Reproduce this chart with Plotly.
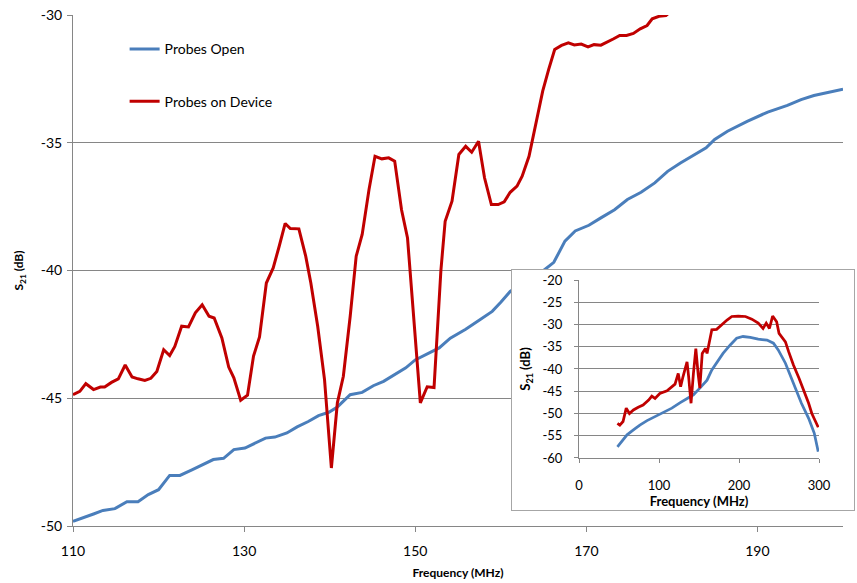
import plotly.graph_objects as go

# ---- Main sweep, 110-200 MHz ----
open_freq = [110.0, 111.2, 112.4, 113.5, 114.9, 116.3, 117.6, 118.8, 120.0, 121.3,
             122.5, 123.9, 125.2, 126.4, 127.6, 128.8, 130.1, 131.3, 132.5, 133.6,
             135.0, 136.2, 137.5, 138.7, 139.9, 140.9, 142.4, 143.8, 145.1, 146.3,
             147.7, 148.9, 150.0, 151.4, 152.8, 154.1, 155.9, 157.6, 159.0, 160.0,
             161.1, 162.3, 163.6, 165.0, 166.2, 167.5, 168.7, 170.3, 171.7, 173.3,
             174.8, 176.4, 178.0, 179.5, 181.0, 182.6, 184.0, 185.0, 186.5, 188.8,
             191.2, 193.5, 195.1, 196.6, 198.6, 200.0]
open_s21 = [-49.82, -49.69, -49.53, -49.39, -49.32, -49.05, -49.05, -48.77, -48.58, -48.02,
            -48.02, -47.80, -47.60, -47.40, -47.35, -47.01, -46.95, -46.75, -46.56, -46.52,
            -46.36, -46.12, -45.91, -45.68, -45.55, -45.34, -44.86, -44.77, -44.51, -44.34,
            -44.05, -43.81, -43.50, -43.25, -43.03, -42.65, -42.30, -41.92, -41.60, -41.24,
            -40.82, -40.55, -40.30, -40.00, -39.68, -38.85, -38.45, -38.23, -37.94, -37.62,
            -37.22, -36.94, -36.57, -36.12, -35.79, -35.46, -35.20, -34.87, -34.55, -34.16,
            -33.80, -33.54, -33.31, -33.15, -33.02, -32.90]

device_freq = [110.0, 110.8, 111.5, 112.4, 113.2, 113.7, 114.5, 115.3, 116.1, 116.9,
               117.6, 118.4, 119.1, 119.8, 120.6, 121.3, 121.9, 122.7, 123.5, 124.3,
               125.1, 125.9, 126.5, 127.4, 128.2, 128.8, 129.6, 130.4, 131.1, 131.8,
               132.6, 133.4, 134.1, 134.8, 135.4, 136.4, 137.2, 137.8, 138.6, 139.4,
               140.2, 140.9, 141.6, 142.4, 143.1, 143.8, 144.6, 145.3, 146.1, 146.9,
               147.6, 148.4, 149.1, 149.8, 150.6, 151.4, 152.2, 153.0, 153.5, 154.3,
               155.1, 155.9, 156.6, 157.4, 158.1, 158.9, 159.7, 160.4, 161.1, 161.9,
               162.5, 163.3, 164.1, 164.9, 165.6, 166.3, 167.1, 167.9, 168.6, 169.4,
               170.2, 170.9, 171.7, 172.5, 173.2, 173.9, 174.7, 175.5, 176.3, 177.1,
               177.7, 178.5, 179.3, 180.1, 181.0]
device_s21 = [-44.86, -44.73, -44.43, -44.66, -44.56, -44.56, -44.38, -44.24, -43.70, -44.17,
              -44.24, -44.30, -44.22, -43.95, -43.10, -43.33, -42.97, -42.18, -42.21, -41.66,
              -41.34, -41.79, -41.86, -42.64, -43.78, -44.20, -45.08, -44.88, -43.35, -42.60,
              -40.49, -39.90, -39.05, -38.16, -38.36, -38.37, -39.44, -40.49, -42.18, -44.27,
              -47.73, -45.18, -44.14, -41.79, -39.44, -38.59, -36.83, -35.53, -35.63, -35.59,
              -35.72, -37.62, -38.73, -41.79, -45.18, -44.55, -44.58, -40.00, -38.07, -37.29,
              -35.46, -35.14, -35.37, -34.94, -36.37, -37.42, -37.42, -37.31, -36.94, -36.70,
              -36.31, -35.53, -34.29, -32.98, -32.13, -31.35, -31.19, -31.09, -31.17, -31.14,
              -31.25, -31.16, -31.18, -31.06, -30.93, -30.80, -30.80, -30.72, -30.54, -30.41,
              -30.15, -30.05, -30.02, -29.80, -29.60]

# ---- Wide sweep, 50-300 MHz (inset) ----
wide_open_freq = [48, 53, 60, 68, 76, 85, 95, 105, 116, 126, 135, 143, 151, 160, 166,
                  172, 180, 189, 197, 205, 214, 224, 235, 243, 249, 258, 268, 278, 287,
                  294, 299]
wide_open_s21 = [-57.5, -56.3, -54.8, -53.7, -52.6, -51.6, -50.7, -49.8, -48.8, -47.6,
                 -46.6, -45.8, -44.3, -42.5, -40.2, -38.7, -36.5, -34.6, -33.1, -32.7,
                 -32.9, -33.3, -33.5, -34.2, -35.7, -38.7, -43.2, -47.7, -51.1, -54.4, -58.6]

wide_device_freq = [48, 51, 55, 59, 63, 68, 74, 80, 87, 91, 95, 101, 110, 116, 120,
                    124, 127, 130, 135, 137, 140, 143, 146, 149, 151, 154, 158, 160, 163,
                    166, 172, 178, 185, 191, 199, 208, 216, 224, 230, 234, 238, 242, 247,
                    250, 258, 262, 268, 275, 281, 287, 291, 295, 299]
wide_device_s21 = [-52.2, -52.6, -51.8, -48.8, -50.0, -49.2, -48.6, -48.1, -47.0, -46.1,
                   -46.6, -45.5, -44.9, -44.0, -43.4, -41.0, -44.0, -41.7, -38.4, -41.7,
                   -47.7, -41.0, -35.4, -41.3, -44.3, -36.5, -35.4, -36.5, -34.2, -31.2,
                   -31.1, -30.1, -29.0, -28.2, -28.1, -28.2, -28.8, -29.7, -30.9, -29.7,
                   -30.9, -28.1, -29.4, -32.0, -33.9, -36.1, -39.1, -42.1, -44.7, -47.7,
                   -50.0, -51.5, -53.1]

main_xticks = [110, 130, 150, 170, 190]
main_yticks = [-50, -45, -40, -35, -30]
main_ylabels = ["-50", "-45", "-40", "-35", "-30"]
inset_xticks = [0, 100, 200, 300]
inset_yticks = [-60, -55, -50, -45, -40, -35, -30, -25, -20]
inset_ylabels = ["-60", "-55", "-50", "-45", "-40", "-35", "-30", "-25", "-20"]

BLUE = "#4A7EBB"
RED = "#C00000"
GRID = "#868686"
FONT = "Lato"

fig = go.Figure()

fig.add_trace(go.Scatter(x=open_freq, y=open_s21, mode="lines", name="Probes Open",
                         line=dict(color=BLUE, width=3), legendgroup="a",
                         xaxis="x", yaxis="y"))
fig.add_trace(go.Scatter(x=device_freq, y=device_s21, mode="lines", name="Probes on Device",
                         line=dict(color=RED, width=3), legendgroup="b",
                         xaxis="x", yaxis="y"))
# empty trace so the framed panel (x2/y2) gets its own opaque background
fig.add_trace(go.Scatter(x=[], y=[], mode="lines", showlegend=False, hoverinfo="skip",
                         xaxis="x2", yaxis="y2"))
fig.add_trace(go.Scatter(x=wide_open_freq, y=wide_open_s21, mode="lines", showlegend=False,
                         line=dict(color=BLUE, width=2.75), xaxis="x3", yaxis="y3"))
fig.add_trace(go.Scatter(x=wide_device_freq, y=wide_device_s21, mode="lines", showlegend=False,
                         line=dict(color=RED, width=2.75), xaxis="x3", yaxis="y3"))

tick_font = dict(family=FONT, size=14, color="#000000")
inset_tick_font = dict(family=FONT, size=13, color="#000000")
title_font = dict(family=FONT, size=12, color="#000000", weight="bold")
inset_title_font = dict(family=FONT, size=13, color="#000000", weight="bold")

# paper area spans x 73..855 px, y 15..526 px
fig.update_layout(
    width=857, height=583,
    margin=dict(l=73, r=2, t=15, b=57, autoexpand=False),
    paper_bgcolor="white", plot_bgcolor="white",
    font=dict(family=FONT, size=13, color="#000000"),
    showlegend=True,
    legend=dict(x=0.066, y=0.964, xanchor="left", yanchor="top",
                bgcolor="rgba(0,0,0,0)", font=dict(family=FONT, size=14, color="#000000"),
                tracegroupgap=31, itemclick=False),
    xaxis=dict(domain=[0, 0.98465], range=[110, 200], tickvals=main_xticks,
               ticks="outside", ticklen=5, tickcolor=GRID, showline=True, linecolor=GRID,
               showgrid=False, zeroline=False, tickfont=tick_font, ticklabelstandoff=7,
               automargin=False,
               title=dict(text="Frequency (MHz)", font=title_font, standoff=10),
               anchor="y"),
    yaxis=dict(domain=[0, 1], range=[-50, -30], tickvals=main_yticks, ticktext=main_ylabels,
               ticks="outside", ticklen=5, tickcolor=GRID, showline=True, linecolor=GRID,
               showgrid=True, gridcolor=GRID, zeroline=False, tickfont=tick_font,
               ticklabelstandoff=2, automargin=False,
               title=dict(text="S<sub>21</sub> (dB)", font=title_font, standoff=14),
               anchor="x"),
    # framed panel that holds the wide sweep
    xaxis2=dict(domain=[0.5614, 0.9987], range=[0, 1], showline=True, mirror=True,
                linecolor="#A6A6A6", showgrid=False, zeroline=False, ticks="",
                showticklabels=False, anchor="y2", fixedrange=True, automargin=False),
    yaxis2=dict(domain=[0.0313, 0.5010], range=[0, 1], showline=True, mirror=True,
                linecolor="#A6A6A6", showgrid=False, zeroline=False, ticks="",
                showticklabels=False, anchor="x2", fixedrange=True, automargin=False),
    xaxis3=dict(domain=[0.6471, 0.9540], range=[0, 300], tickvals=inset_xticks,
                ticks="outside", ticklen=4, tickcolor=GRID, showline=True, linecolor=GRID,
                showgrid=False, zeroline=False, tickfont=inset_tick_font, ticklabelstandoff=11,
                automargin=False,
                title=dict(text="Frequency (MHz)", font=inset_title_font, standoff=3),
                anchor="y3"),
    yaxis3=dict(domain=[0.1331, 0.4814], range=[-60, -20], tickvals=inset_yticks,
                ticktext=inset_ylabels,
                ticks="outside", ticklen=4, tickcolor=GRID, showline=True, linecolor=GRID,
                showgrid=True, gridcolor=GRID, zeroline=False, tickfont=inset_tick_font,
                ticklabelstandoff=9, automargin=False,
                title=dict(text="S<sub>21</sub> (dB)", font=inset_title_font, standoff=8),
                anchor="x3"),
)

fig.write_html("out.html")
